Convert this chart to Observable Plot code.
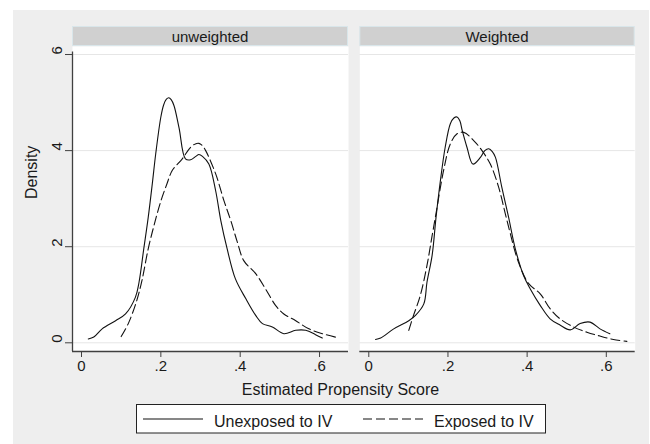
<!DOCTYPE html>
<html>
<head>
<meta charset="utf-8">
<script src="https://cdn.jsdelivr.net/npm/d3@7"></script>
<script src="https://cdn.jsdelivr.net/npm/@observablehq/plot@0.6"></script>
<style>
  body { margin: 0; background: #ffffff; font-family: "Liberation Sans", Arial, sans-serif; }
  #page { position: relative; width: 650px; height: 444px; overflow: hidden; }
  #bg { position: absolute; left: 13px; top: 10px; width: 636px; height: 434px; background: #eeeeee; }
  .pane { position: absolute; top: 0; }
  #overlay { position: absolute; left: 0; top: 0; pointer-events: none; }
</style>
</head>
<body>
<div id="page">
  <div id="bg"></div>
  <div id="leftPane" class="pane" style="left:0px"></div>
  <div id="rightPane" class="pane" style="left:350px"></div>
</div>
<script>
// ---------------- data ----------------
const panelTitles = ["unweighted", "Weighted"];
const seriesNames = ["Unexposed to IV", "Exposed to IV"];
const xTicks = [0, 0.2, 0.4, 0.6];
const xTickLabels = ["0", ".2", ".4", ".6"];
const yTicks = [0, 2, 4, 6];
const xTitle = "Estimated Propensity Score";
const yTitle = "Density";

// [propensity score, density]
const unweightedUnexposed = [
  [0.017,0.08],[0.031,0.12],[0.052,0.29],[0.086,0.46],[0.111,0.60],[0.136,0.95],
  [0.145,1.26],[0.157,1.96],[0.168,2.60],[0.179,3.35],[0.187,3.93],[0.200,4.70],
  [0.207,4.95],[0.214,5.07],[0.220,5.10],[0.226,5.06],[0.233,4.94],[0.246,4.47],
  [0.262,3.83],[0.275,3.81],[0.288,3.88],[0.296,3.92],[0.305,3.88],[0.321,3.72],
  [0.338,3.17],[0.351,2.55],[0.367,1.96],[0.388,1.33],[0.414,0.92],[0.439,0.57],
  [0.456,0.40],[0.481,0.33],[0.510,0.19],[0.540,0.26],[0.565,0.26],[0.590,0.17],
  [0.607,0.10]
];
const unweightedExposed = [
  [0.100,0.13],[0.119,0.42],[0.140,0.90],[0.153,1.32],[0.168,1.95],[0.183,2.45],
  [0.200,2.95],[0.215,3.30],[0.229,3.59],[0.254,3.83],[0.275,4.07],[0.287,4.14],
  [0.296,4.15],[0.305,4.10],[0.313,4.00],[0.338,3.52],[0.359,2.96],[0.376,2.55],
  [0.393,2.09],[0.409,1.71],[0.439,1.44],[0.464,1.12],[0.489,0.78],[0.510,0.60],
  [0.540,0.46],[0.573,0.29],[0.607,0.19],[0.649,0.10]
];
const weightedUnexposed = [
  [0.017,0.07],[0.030,0.10],[0.063,0.29],[0.101,0.46],[0.118,0.57],[0.139,0.81],
  [0.147,1.26],[0.160,1.82],[0.170,2.62],[0.181,3.38],[0.193,4.07],[0.206,4.56],
  [0.215,4.68],[0.223,4.70],[0.230,4.62],[0.236,4.42],[0.248,4.07],[0.263,3.72],
  [0.282,3.86],[0.293,4.00],[0.303,4.04],[0.312,3.98],[0.320,3.86],[0.336,3.24],
  [0.353,2.62],[0.370,1.96],[0.391,1.40],[0.408,1.12],[0.433,0.78],[0.458,0.50],
  [0.483,0.37],[0.509,0.27],[0.534,0.40],[0.559,0.43],[0.584,0.29],[0.609,0.19]
];
const weightedExposed = [
  [0.101,0.26],[0.113,0.57],[0.130,0.98],[0.147,1.61],[0.160,2.23],[0.170,2.70],
  [0.189,3.59],[0.206,4.14],[0.223,4.35],[0.240,4.38],[0.265,4.21],[0.286,4.00],
  [0.307,3.72],[0.328,3.24],[0.349,2.55],[0.378,1.68],[0.404,1.23],[0.433,1.02],
  [0.458,0.71],[0.483,0.50],[0.517,0.33],[0.551,0.22],[0.584,0.14],[0.618,0.07],
  [0.652,0.03]
];

// ---------------- styling ----------------
const FONT = '"Liberation Sans", Arial, sans-serif';
const INK = "#1a1a1a";
const AXIS = "#404040";
const xDomain = [-0.0227, 0.673];
const yDomain = [-0.181, 6.167];
const dash = "9,4";

function panel({unexp, exp, showY, width, marginLeft, marginRight}) {
  const marks = [
    Plot.frame({fill: "white", stroke: "none"}),
    Plot.gridY(yTicks, {stroke: "#e6e6e6", strokeOpacity: 1}),
    Plot.line(unexp, {x: d => d[0], y: d => d[1], curve: "catmull-rom", stroke: "#111", strokeWidth: 1.1}),
    Plot.line(exp, {x: d => d[0], y: d => d[1], curve: "catmull-rom", stroke: "#111", strokeWidth: 1.1, strokeDasharray: dash}),
    Plot.ruleY([yDomain[0]], {stroke: AXIS, strokeWidth: 1.3}),
    Plot.axisX(xTicks, {tickSize: 6, tickPadding: 3, tickFormat: d => xTickLabels[xTicks.indexOf(d)], label: null, stroke: AXIS, fill: INK, fontSize: 15})
  ];
  if (showY) {
    marks.push(
      Plot.ruleX([xDomain[0]], {y1: yDomain[0], y2: 6.05, stroke: AXIS, strokeWidth: 1.3}),
      Plot.axisY(yTicks, {tickSize: 7, tickFormat: () => "", label: null, stroke: AXIS}),
      Plot.text(yTicks, {y: d => d, text: d => String(d), frameAnchor: "left", dx: -15, rotate: -90, fontSize: 15, fill: INK}),
      Plot.text([yTitle], {text: d => d, frameAnchor: "left", dx: -41, rotate: -90, fontSize: 16, fill: INK})
    );
  }
  return Plot.plot({
    width, height: 400, marginLeft, marginRight, marginTop: 46, marginBottom: 49,
    x: {domain: xDomain},
    y: {domain: yDomain, axis: showY ? undefined : null},
    style: {background: "transparent", fontFamily: FONT, fontSize: "15px", color: INK, overflow: "visible"},
    marks
  });
}

document.getElementById("leftPane").append(panel({
  unexp: unweightedUnexposed, exp: unweightedExposed, showY: true,
  width: 350, marginLeft: 72, marginRight: 2
}));
document.getElementById("rightPane").append(panel({
  unexp: weightedUnexposed, exp: weightedExposed, showY: false,
  width: 300, marginLeft: 9.3, marginRight: 15.3
}));

// ---------------- strips, axis title, legend ----------------
const svg = d3.select("#page").append("svg")
  .attr("id", "overlay").attr("width", 650).attr("height", 444)
  .style("font-family", FONT);

const strips = [{x: 72, w: 276}, {x: 359.3, w: 275.4}];
strips.forEach((s, i) => {
  svg.append("rect").attr("x", s.x + 0.5).attr("y", 26.5).attr("width", s.w - 1).attr("height", 19)
    .attr("fill", "#d0d0d0").attr("stroke", "#d9e6ea").attr("stroke-width", 1);
  svg.append("text").attr("x", s.x + s.w / 2).attr("y", 41.5).attr("text-anchor", "middle")
    .attr("font-size", 15).attr("fill", INK).text(panelTitles[i]);
});

svg.append("text").attr("x", 340.5).attr("y", 394.5).attr("text-anchor", "middle")
  .attr("font-size", 16).attr("fill", INK).text(xTitle);

svg.append("rect").attr("x", 136.5).attr("y", 404.5).attr("width", 409).attr("height", 28.5)
  .attr("fill", "white").attr("stroke", "#222").attr("stroke-width", 1);
const legendItems = [
  {x1: 143, x2: 203, tx: 214, dash: null},
  {x1: 363, x2: 423, tx: 434, dash: dash}
];
legendItems.forEach((it, i) => {
  const l = svg.append("line").attr("x1", it.x1).attr("x2", it.x2).attr("y1", 419).attr("y2", 419)
    .attr("stroke", "#111").attr("stroke-width", 1.1);
  if (it.dash) l.attr("stroke-dasharray", it.dash);
  svg.append("text").attr("x", it.tx).attr("y", 426.5).attr("font-size", 16).attr("fill", INK).text(seriesNames[i]);
});
</script>
</body>
</html>
